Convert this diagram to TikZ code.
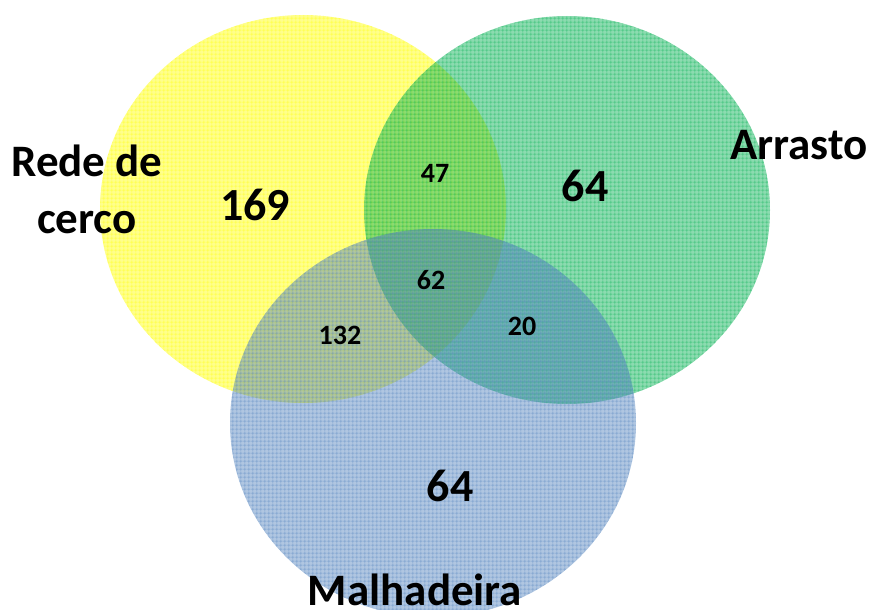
\documentclass[tikz,border=0pt]{standalone}
\usepackage{fontspec}
\setmainfont{Carlito}
\usetikzlibrary{patterns.meta}

\definecolor{cercoyellow}{HTML}{FFFF00}
\definecolor{arrastogreen}{HTML}{00B050}
\definecolor{malhablue}{HTML}{4F81BD}

\tikzdeclarepattern{
  name=mesh,
  type=uncolored,
  bounding box={(0pt,0pt) and (4.3pt,4.3pt)},
  tile size={(4.3pt,4.3pt)},
  code={\draw[line width=0.8pt] (0pt,2.15pt) -- (4.3pt,2.15pt) (2.15pt,0pt) -- (2.15pt,4.3pt);}
}

\tikzset{
  set/.style={fill=#1, fill opacity=0.45,
    postaction={pattern=mesh, pattern color=#1, fill opacity=0.6}},
  biglabel/.style={font=\fontsize{45}{57}\selectfont\bfseries, align=center},
  count/.style={font=\fontsize{46}{50}\selectfont\bfseries},
  small/.style={font=\fontsize{28}{30}\selectfont\bfseries}
}

\begin{document}
\begin{tikzpicture}[x=1pt, y=-1pt]

\useasboundingbox (0,0) rectangle (871,610);

\fill (303,209) [set=cercoyellow] ellipse [x radius=203pt, y radius=194pt];
\fill (567,210) [set=arrastogreen] ellipse [x radius=203pt, y radius=194pt];
\fill (433,423) [set=malhablue] ellipse [x radius=203pt, y radius=194pt];

\node[biglabel] (cerco) at (87,189) {Rede de\\cerco};
\node[biglabel] (arrasto) at (799,145) {Arrasto};
\node[biglabel, anchor=base, inner sep=0pt] (malha) at (415,605) {Malhadeira};

\node[count] (ncerco) at (255,205) {169};
\node[count] (narrasto) at (585,186) {64};
\node[count] (nmalha) at (450,486) {64};

\node[small] (nca) at (435,173) {47};
\node[small] (nall) at (431,280) {62};
\node[small] (ncm) at (340,335) {132};
\node[small] (nam) at (522,326) {20};

\end{tikzpicture}
\end{document}
